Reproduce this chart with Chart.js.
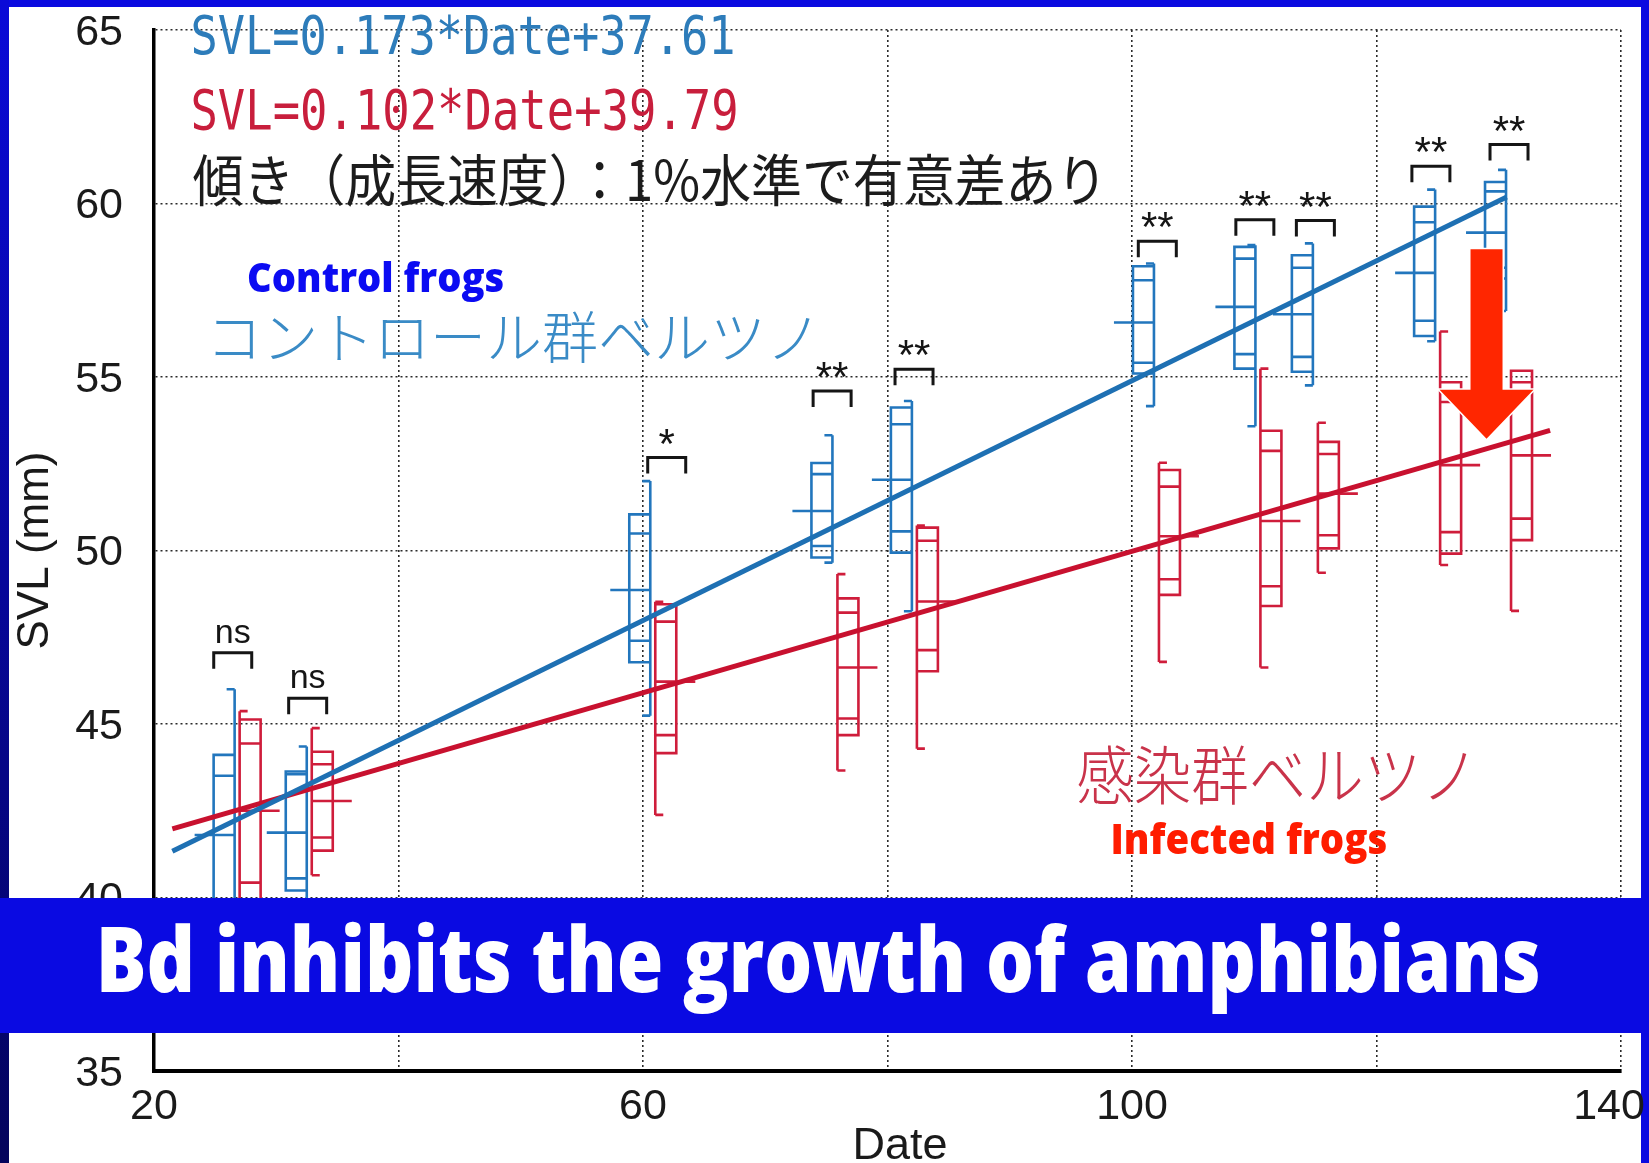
<!DOCTYPE html>
<html><head><meta charset="utf-8">
<script src="https://cdn.jsdelivr.net/npm/chart.js@4/dist/chart.umd.min.js"></script>
<style>
html,body{margin:0;padding:0;background:#0a0ae0;overflow:hidden}
#wrap{position:relative;width:1649px;height:1163px}
</style></head><body><div id="wrap"><canvas id="c"></canvas></div>
<script>
// ---------- DATA ----------
const dates = [26.8, 32.7, 60.8, 75.7, 82.2, 102.0, 110.3, 115.0, 125.0, 130.8];

// Control frogs (blue)
const ctrlWhiskerHi = [46.00, 44.35, 52.00, 53.32, 54.31, 58.27, 58.80, 58.85, 60.40, 60.97];
const ctrlBoxHi     = [44.11, 43.63, 51.04, 52.52, 54.12, 58.19, 58.75, 58.51, 59.91, 60.62];
const ctrlInnerHi   = [43.51, 43.55, 50.49, 52.20, 53.64, 57.79, 58.41, 58.15, 59.46, 60.35];
const ctrlMid       = [41.80, 41.87, 48.86, 51.14, 52.04, 56.57, 57.02, 56.81, 58.00, 59.16];
const ctrlInnerLo   = [39.90, 40.55, 47.40, 50.13, 50.55, 55.41, 55.66, 55.58, 56.62, 58.15];
const ctrlBoxLo     = [39.50, 40.20, 46.78, 49.80, 49.94, 55.10, 55.24, 55.15, 56.18, 57.84];
const ctrlWhiskerLo = [38.60, 39.60, 45.24, 49.65, 48.25, 54.16, 53.58, 54.76, 56.03, 56.90];

// Infected frogs (red)
const infWhiskerHi = [45.37, 44.88, 48.52, 49.32, 50.72, 52.53, 55.24, 53.68, 56.31, 55.18];
const infBoxHi     = [45.13, 44.20, 48.45, 48.62, 50.66, 52.32, 53.45, 53.13, 54.85, 55.18];
const infInnerHi   = [44.44, 43.84, 47.95, 48.21, 50.28, 51.84, 52.87, 52.78, 54.28, 54.85];
const infMid       = [42.50, 42.78, 46.22, 46.63, 48.53, 50.41, 50.85, 51.64, 52.46, 52.74];
const infInnerLo   = [40.43, 41.73, 44.68, 45.16, 47.13, 49.17, 48.97, 50.44, 50.53, 50.92];
const infBoxLo     = [39.80, 41.35, 44.16, 44.68, 46.52, 48.72, 48.40, 50.06, 49.91, 50.30];
const infWhiskerLo = [39.00, 40.64, 42.38, 43.66, 44.29, 46.79, 46.63, 49.36, 49.58, 48.26];

// Regression lines (end points)
const ctrlFitDates = [21.5, 130.65];
const ctrlFitSVL   = [41.33, 60.19];
const infFitDates  = [21.5, 134.2];
const infFitSVL    = [41.98, 53.46];

// Significance marks
const sigLabels = ['ns','ns','*','**','**','**','**','**','**','**'];
const sigDates  = [26.44, 32.57, 61.94, 75.47, 82.17, 102.07, 110.05, 115.0, 124.45, 130.84];
const sigSVL    = [47.05, 45.74, 52.68, 54.60, 55.22, 58.91, 59.53, 59.51, 61.07, 61.70];

// Axis ticks
const xLabeledTicks = [20, 60, 100, 140];
const yTicks = [35, 40, 45, 50, 55, 60, 65];

// ---------- STYLE ----------
const BLUE = '#2276bd', RED = '#cf1d3b';
const LINE_BLUE = '#1e70b3', LINE_RED = '#c8112f';

// text annotations: ink box in data units [dateLeft, dateRight, svlTop, svlBottom]
const annotations = [
  {text:'SVL=0.173*Date+37.61', font:'44px "DejaVu Sans Mono"', color:'#2d7cba', box:[23.15, 67.36, 65.49, 64.28], cjk:false},
  {text:'SVL=0.102*Date+39.79', font:'44px "DejaVu Sans Mono"', color:'#c81e3c', box:[23.15, 67.61, 63.39, 62.12], cjk:false},
  {text:'傾き（成長速度）：1%水準で有意差あり', family:'"Noto Sans CJK JP"', weight:'400', color:'#1c1c1c', box:[23.15, 97.14, 61.46, 59.90], cjk:true},
  {text:'コントロール群ベルツノ', family:'"Noto Sans CJK JP"', weight:'300', color:'#3a8bc6', box:[24.99, 73.66, 56.93, 55.40], cjk:true},
  {text:'感染群ベルツノ', family:'"Noto Sans CJK JP"', weight:'300', color:'#c9334a', box:[95.58, 127.40, 44.41, 42.67], cjk:true},
  {text:'Control frogs', font:'800 60px "Open Sans"', color:'#0b0bf2', box:[27.77, 48.55, 58.34, 57.16], cjk:false},
  {text:'Infected frogs', font:'800 60px "Open Sans"', color:'#ff1c00', box:[98.45, 120.78, 42.18, 40.97], cjk:false}
];
const arrowSpec = {date:129.0, from:58.68, headTop:54.63, tip:53.22};

// ---------- HELPERS ----------
function fitInk(ctx, text, font, color, L, R, T, B) {
  ctx.save();
  ctx.font = font; ctx.textAlign = 'left'; ctx.textBaseline = 'alphabetic';
  const m = ctx.measureText(text);
  const iw = m.actualBoundingBoxLeft + m.actualBoundingBoxRight;
  const ih = m.actualBoundingBoxAscent + m.actualBoundingBoxDescent;
  const sx = (R - L) / iw, sy = (B - T) / ih;
  ctx.translate(L + m.actualBoundingBoxLeft * sx, T + m.actualBoundingBoxAscent * sy);
  ctx.scale(sx, sy);
  ctx.fillStyle = color;
  ctx.fillText(text, 0, 0);
  ctx.restore();
}
function fitCJK(ctx, text, family, weight, color, L, R, T, B) {
  ctx.save();
  ctx.textAlign = 'left'; ctx.textBaseline = 'alphabetic';
  ctx.font = weight + ' 100px ' + family;
  let m = ctx.measureText(text);
  const size = 100 * (B - T) / (m.actualBoundingBoxAscent + m.actualBoundingBoxDescent);
  const font = weight + ' ' + size.toFixed(2) + 'px ' + family;
  if (!('letterSpacing' in ctx)) { ctx.restore(); fitInk(ctx, text, font, color, L, R, T, B); return; }
  ctx.font = font;
  m = ctx.measureText(text);
  const n = [...text].length;
  const iw = m.actualBoundingBoxLeft + m.actualBoundingBoxRight;
  const ls = ((R - L) - iw) / (n - 1);
  if (ls < 0) { ctx.restore(); fitInk(ctx, text, font, color, L, R, T, B); return; }
  ctx.letterSpacing = ls.toFixed(2) + 'px';
  m = ctx.measureText(text);
  ctx.fillStyle = color;
  ctx.fillText(text, L + m.actualBoundingBoxLeft, T + m.actualBoundingBoxAscent);
  ctx.restore();
}

function groupStats(hiW, hiB, hiI, mid, loI, loB, loW, i) {
  return {wHi:hiW[i], bHi:hiB[i], iHi:hiI[i], med:mid[i], iLo:loI[i], bLo:loB[i], wLo:loW[i]};
}

function drawBoxGroup(ctx, xs, ys, date, s, side, color) {
  const Y = v => ys.getPixelForValue(v);
  const xc = xs.getPixelForValue(date);
  const wx = xc + side * 2.5;
  const bx = xc + side * 23.5;
  const ex = bx + side * 19;
  const tick = 8;
  ctx.save();
  ctx.strokeStyle = color; ctx.lineWidth = 2.6; ctx.lineCap = 'butt';
  ctx.beginPath();
  ctx.moveTo(wx, Y(s.wHi)); ctx.lineTo(wx, Y(s.wLo));
  ctx.moveTo(wx, Y(s.wHi)); ctx.lineTo(wx + side * tick, Y(s.wHi));
  ctx.moveTo(wx, Y(s.wLo)); ctx.lineTo(wx + side * tick, Y(s.wLo));
  ctx.rect(Math.min(wx, bx), Y(s.bHi), Math.abs(bx - wx), Y(s.bLo) - Y(s.bHi));
  ctx.moveTo(wx, Y(s.iHi)); ctx.lineTo(bx, Y(s.iHi));
  ctx.moveTo(wx, Y(s.iLo)); ctx.lineTo(bx, Y(s.iLo));
  ctx.moveTo(wx, Y(s.med)); ctx.lineTo(ex, Y(s.med));
  ctx.stroke();
  ctx.restore();
}

// ---------- PLUGINS ----------
const framePlugin = {
  id: 'frame',
  beforeDraw(chart) {
    const ctx = chart.ctx, W = chart.width, H = chart.height;
    ctx.save();
    ctx.fillStyle = '#0a0ae0';
    ctx.fillRect(0, 0, W, H);
    const g = ctx.createLinearGradient(0, 0, 0, H);
    g.addColorStop(0, '#0a0ad8'); g.addColorStop(1, '#04045c');
    ctx.fillStyle = g;
    ctx.fillRect(0, 0, 9, H);
    ctx.fillStyle = '#ffffff';
    ctx.fillRect(9, 7, 1632, H - 7);
    ctx.restore();
  }
};

const boxPlugin = {
  id: 'boxes',
  beforeDatasetsDraw(chart) {
    const ctx = chart.ctx, xs = chart.scales.x, ys = chart.scales.y;
    for (let i = 0; i < dates.length; i++) {
      drawBoxGroup(ctx, xs, ys, dates[i],
        groupStats(ctrlWhiskerHi, ctrlBoxHi, ctrlInnerHi, ctrlMid, ctrlInnerLo, ctrlBoxLo, ctrlWhiskerLo, i), -1, BLUE);
      drawBoxGroup(ctx, xs, ys, dates[i],
        groupStats(infWhiskerHi, infBoxHi, infInnerHi, infMid, infInnerLo, infBoxLo, infWhiskerLo, i), 1, RED);
    }
  }
};

const annotPlugin = {
  id: 'annot',
  afterDatasetsDraw(chart) {
    const ctx = chart.ctx, xs = chart.scales.x, ys = chart.scales.y;
    // significance brackets
    for (let i = 0; i < sigLabels.length; i++) {
      const cx = xs.getPixelForValue(sigDates[i]);
      const top = ys.getPixelForValue(sigSVL[i]);
      ctx.save();
      ctx.strokeStyle = '#151515'; ctx.lineWidth = 3; ctx.lineJoin = 'miter';
      ctx.beginPath();
      ctx.moveTo(cx - 19, top + 16); ctx.lineTo(cx - 19, top); ctx.lineTo(cx + 19, top); ctx.lineTo(cx + 19, top + 16);
      ctx.stroke();
      const isStar = sigLabels[i] !== 'ns';
      ctx.font = isStar ? '42px "Liberation Sans"' : '34px "Liberation Sans"';
      ctx.textAlign = 'center'; ctx.textBaseline = 'alphabetic';
      const m = ctx.measureText(sigLabels[i]);
      const gap = isStar ? 13 : 10;
      ctx.fillStyle = '#151515';
      ctx.fillText(sigLabels[i], cx, top - gap - m.actualBoundingBoxDescent);
      ctx.restore();
    }
    // text annotations
    for (const a of annotations) {
      const L = xs.getPixelForValue(a.box[0]), R = xs.getPixelForValue(a.box[1]);
      const T = ys.getPixelForValue(a.box[2]), B = ys.getPixelForValue(a.box[3]);
      if (a.cjk) fitCJK(ctx, a.text, a.family, a.weight, a.color, L, R, T, B);
      else fitInk(ctx, a.text, a.font, a.color, L, R, T, B);
    }
  },
  afterDraw(chart) {
    const ctx = chart.ctx, xs = chart.scales.x, ys = chart.scales.y;
    // red arrow
    const ax = xs.getPixelForValue(arrowSpec.date);
    const y0 = ys.getPixelForValue(arrowSpec.from);
    const yh = ys.getPixelForValue(arrowSpec.headTop);
    const yt = ys.getPixelForValue(arrowSpec.tip);
    ctx.save();
    ctx.beginPath();
    ctx.moveTo(ax - 16, y0); ctx.lineTo(ax + 16, y0); ctx.lineTo(ax + 16, yh);
    ctx.lineTo(ax + 47, yh); ctx.lineTo(ax, yt); ctx.lineTo(ax - 47, yh); ctx.lineTo(ax - 16, yh);
    ctx.closePath();
    ctx.strokeStyle = '#ffffff'; ctx.lineWidth = 3; ctx.lineJoin = 'miter';
    ctx.stroke();
    ctx.fillStyle = '#ff2600';
    ctx.fill();
    ctx.restore();
    // banner
    ctx.save();
    ctx.fillStyle = '#0a0ae2';
    ctx.fillRect(0, 898, chart.width, 135);
    ctx.restore();
    fitInk(ctx, 'Bd inhibits the growth of amphibians', '800 100px "Open Sans"', '#ffffff', 101, 1538, 923, 1014);
  }
};

// ---------- CHART ----------
const ctrlFit = ctrlFitDates.map((d, i) => ({x: d, y: ctrlFitSVL[i]}));
const infFit = infFitDates.map((d, i) => ({x: d, y: infFitSVL[i]}));
const tickFont = {family: '"Liberation Sans", Arial, sans-serif', size: 43};

new Chart(document.getElementById('c'), {
  type: 'line',
  data: {
    datasets: [
      {label: 'Control fit', data: ctrlFit, borderColor: LINE_BLUE, borderWidth: 5, pointRadius: 0, fill: false, tension: 0},
      {label: 'Infected fit', data: infFit, borderColor: LINE_RED, borderWidth: 5, pointRadius: 0, fill: false, tension: 0}
    ]
  },
  options: {
    responsive: true, maintainAspectRatio: false, animation: false,
    layout: {padding: {left: 14, top: 30, right: 28, bottom: 0}},
    plugins: {legend: {display: false}, tooltip: {enabled: false}, title: {display: false}},
    scales: {
      x: {
        type: 'linear', min: 20, max: 140,
        ticks: {stepSize: 20, autoSkip: false, maxRotation: 0, padding: 10, color: '#1a1a1a', font: tickFont,
                callback: v => xLabeledTicks.includes(v) ? (v === 140 ? '140  ' : String(v)) : ''},
        grid: {color: '#2a2a2a', lineWidth: 1.6, drawTicks: false},
        border: {display: true, color: '#000', width: 4, dash: [2, 3]},
        title: {display: true, text: '  Date', color: '#1a1a1a', font: {family: '"Liberation Sans", Arial, sans-serif', size: 45, lineHeight: 1}, padding: {top: 0, bottom: -6}},
        afterFit(s) { s.height = 92; s.paddingLeft = 0; s.paddingRight = 0; }
      },
      y: {
        type: 'linear', min: 35, max: 65,
        afterBuildTicks(s) { s.ticks = yTicks.map(v => ({value: v})); },
        ticks: {padding: 31, labelOffset: 3, color: '#1a1a1a', font: tickFont},
        grid: {color: '#2a2a2a', lineWidth: 1.6, drawTicks: false},
        border: {display: true, color: '#000', width: 3.5, dash: [2, 3]},
        title: {display: true, text: 'SVL (mm)', color: '#1a1a1a', font: {family: '"Liberation Sans", Arial, sans-serif', size: 44, lineHeight: 1}, padding: {top: 0, bottom: 0}},
        afterFit(s) { s.width = 140; s.paddingTop = 0; s.paddingBottom = 0; }
      }
    }
  },
  plugins: [framePlugin, boxPlugin, annotPlugin]
});
</script></body></html>
